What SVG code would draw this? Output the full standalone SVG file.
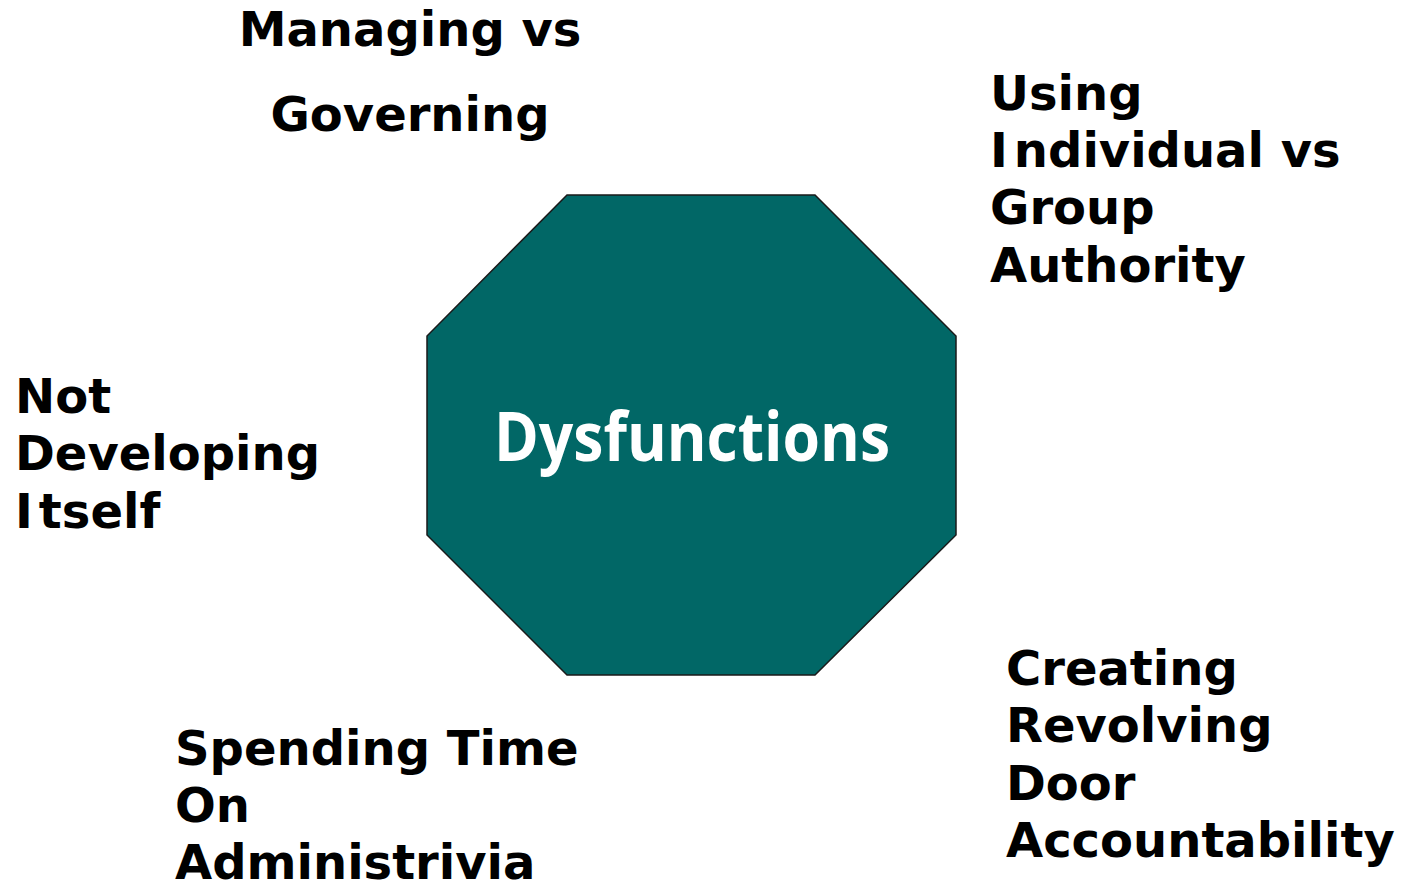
<svg xmlns="http://www.w3.org/2000/svg" width="1403" height="882" viewBox="0 0 1403 882">
<style>
.lbl{font-family:"DejaVu Sans","Verdana",sans-serif;font-weight:bold;font-size:48px;fill:#000}
.ctr{font-family:"Open Sans","Noto Sans",sans-serif;font-weight:bold;font-size:68px;fill:#fff}
</style>
<rect width="1403" height="882" fill="#fff"/>
<g id="center">
<polygon points="567,195 815,195 956,336 956,535 815,675 567,675 427,535 427,336" fill="#016766" stroke="#1a1a1a" stroke-width="1.5"/>
<text class="ctr" x="692" y="461" text-anchor="middle" textLength="396" lengthAdjust="spacingAndGlyphs">Dysfunctions</text>
</g>
<g id="managing">
<text class="lbl" x="410" y="46" text-anchor="middle">Managing vs</text>
<text class="lbl" x="410" y="131" text-anchor="middle">Governing</text>
</g>
<g id="using">
<text class="lbl" x="990" y="110">Using</text>
<text class="lbl" x="990" y="167">I<tspan dx="6">ndividual vs</tspan></text>
<text class="lbl" x="990" y="224">Group</text>
<text class="lbl" x="990" y="282">Authority</text>
</g>
<g id="notdeveloping">
<text class="lbl" x="15" y="413">Not</text>
<text class="lbl" x="15" y="470">Developing</text>
<text class="lbl" x="15" y="528">I<tspan dx="6">tself</tspan></text>
</g>
<g id="spending">
<text class="lbl" x="175" y="765">Spending Time</text>
<text class="lbl" x="175" y="822">On</text>
<text class="lbl" x="175" y="879">Administrivia</text>
</g>
<g id="creating">
<text class="lbl" x="1006" y="685">Creating</text>
<text class="lbl" x="1006" y="742">Revolving</text>
<text class="lbl" x="1006" y="800">Door</text>
<text class="lbl" x="1006" y="857">Accountability</text>
</g>
<g id="connectors"></g>
</svg>
